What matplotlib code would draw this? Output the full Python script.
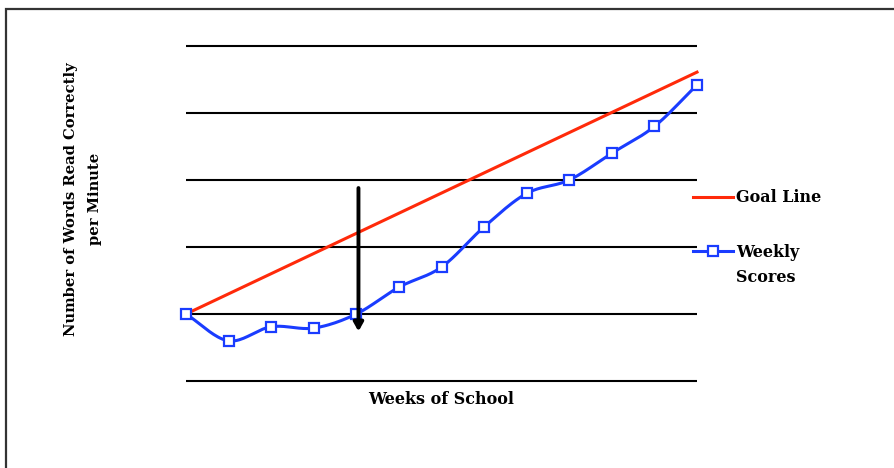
import numpy as np
import matplotlib
matplotlib.use("Agg")
import matplotlib.pyplot as plt
from matplotlib.patches import Rectangle
from matplotlib.lines import Line2D

weeks = list(range(13))
weekly_scores = [10, 6, 8.1, 7.9, 10, 14, 17, 23, 28, 30, 34, 38, 44.2]
goal_weeks = [0, 12]
goal_values = [10, 46.1]
grid_levels = [0, 10, 20, 30, 40, 50]
arrow_week = 4.05
arrow_top, arrow_bottom = 28.8, 7.4

def catmull_rom(x, y, n=20):
    x = np.asarray(x, float); y = np.asarray(y, float)
    px = np.concatenate([[2*x[0]-x[1]], x, [2*x[-1]-x[-2]]])
    py = np.concatenate([[2*y[0]-y[1]], y, [2*y[-1]-y[-2]]])
    xs, ys = [], []
    t = np.linspace(0, 1, n, endpoint=False)
    for i in range(1, len(px)-2):
        for p, out in ((px, xs), (py, ys)):
            p0, p1, p2, p3 = p[i-1], p[i], p[i+1], p[i+2]
            out.extend(0.5*((2*p1) + (-p0+p2)*t + (2*p0-5*p1+4*p2-p3)*t**2 + (-p0+3*p1-3*p2+p3)*t**3))
    xs.append(x[-1]); ys.append(y[-1])
    return np.array(xs), np.array(ys)

plt.rcParams['font.family'] = ['DejaVu Serif']
fig = plt.figure(figsize=(8.94, 4.68), dpi=100)
ax = fig.add_axes([186/894, 1-381/468, 511/894, 335/468])
ax.set_xlim(0, 12)
ax.set_ylim(0, 50)
ax.axis('off')

ax.hlines(grid_levels, 0, 12, colors='black', lw=1.5, clip_on=False, zorder=1)

red = '#ff2a0a'
blue = '#1a3cff'
ax.plot(goal_weeks, goal_values, color=red, lw=2.2, clip_on=False, zorder=2)
sx, sy = catmull_rom(weeks, weekly_scores)
ax.plot(sx, sy, color=blue, lw=2.2, clip_on=False, zorder=3)
ax.plot(weeks, weekly_scores, ls='none', marker='s', ms=7.8, mfc='white', mec=blue, mew=1.6,
        clip_on=False, zorder=4)

ax.annotate('', xy=(arrow_week, arrow_bottom), xytext=(arrow_week, arrow_top),
            arrowprops=dict(arrowstyle='-|>,head_width=0.28,head_length=0.5', color='black', lw=2.8,
                            shrinkA=0, shrinkB=0), zorder=5)

fig.text(441/894, 1-399/468, 'Weeks of School', ha='center', va='center', fontsize=11.5, fontweight='bold')
fig.text(83/894, 1-199/468, 'Number of Words Read Correctly\nper Minute', ha='center', va='center',
         rotation=90, fontsize=10.6, fontweight='bold', linespacing=1.85)

h1 = Line2D([], [], color=red, lw=2.2)
h2 = Line2D([], [], color=blue, lw=2.2, marker='s', ms=7.8, mfc='white', mec=blue, mew=1.6)
leg = fig.legend([h1, h2], ['Goal Line', 'Weekly'], loc='upper left',
                 bbox_to_anchor=(679/894, 1-175/468), frameon=False, handlelength=2.5,
                 handletextpad=0.15, labelspacing=2.35, prop=dict(size=11.5, weight='bold'))

fig.canvas.draw()
bb = leg.get_texts()[1].get_window_extent()
fig.text(bb.x0/894, (bb.y0 - 25)/468, 'Scores', ha='left', va='bottom', fontsize=11.5, fontweight='bold')

fig.patches.append(Rectangle((6/894, -0.5), 2, 0.5 + 1 - 9/468, transform=fig.transFigure,
                             fill=False, ec='#333333', lw=1.6))

fig.savefig('out.png', dpi=100)
